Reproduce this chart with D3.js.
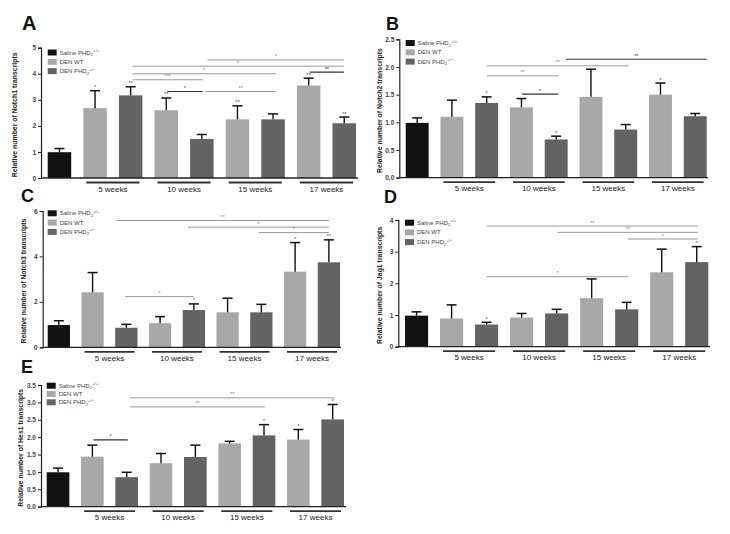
<!DOCTYPE html>
<html><head><meta charset="utf-8">
<script src="https://cdn.jsdelivr.net/npm/d3@7"></script>
<style>body{margin:0;background:#fff}svg{display:block}</style>
</head><body><svg id="c" width="730" height="534"></svg>
<script>
// ---- data ----
const barCategories = ['Saline PHD2+/+','DEN WT 5w','DEN PHD2+/- 5w','DEN WT 10w','DEN PHD2+/- 10w','DEN WT 15w','DEN PHD2+/- 15w','DEN WT 17w','DEN PHD2+/- 17w'];
const barSeries = [0,1,2,1,2,1,2,1,2];
const weeks = ['5 weeks','10 weeks','15 weeks','17 weeks'];
const seriesColors = ['#111111','#a8a8a8','#636363'];

const notch1Mean = [0.99,2.68,3.17,2.60,1.50,2.25,2.25,3.55,2.10];
const notch1Err  = [0.14,0.67,0.33,0.47,0.17,0.52,0.21,0.28,0.24];
const notch1Stars = ['','*','**','**','','**','','**','**'];
const notch1Brackets = [[4.16,7.99,4.53,'*',0],[2.05,7.99,4.29,'*',0],[2.05,6.08,4.0,'*',0],[2.05,4.02,3.77,'***',0],[3.03,4.02,3.32,'*',1],[4.1,6.08,3.32,'**',0],[7.03,7.99,4.06,'**',1]];
const notch1Ticks = [0,1,2,3,4,5];

const notch2Mean = [0.99,1.10,1.35,1.27,0.69,1.46,0.87,1.50,1.11];
const notch2Err  = [0.09,0.30,0.11,0.16,0.06,0.50,0.09,0.21,0.05];
const notch2Stars = ['','','*','','*','','','*',''];
const notch2Brackets = [[4.28,8.33,2.14,'**',1],[2.01,6.08,2.02,'**',0],[2.01,4.05,1.84,'**',0],[3.02,4.05,1.51,'*',1]];
const notch2Ticks = [0,0.5,1,1.5,2,2.5];

const notch3Mean = [0.98,2.42,0.86,1.06,1.64,1.54,1.54,3.33,3.74];
const notch3Err  = [0.19,0.87,0.15,0.29,0.27,0.62,0.35,1.28,0.99];
const notch3Stars = ['','','','','*','','','*','**'];
const notch3Brackets = [[1.71,8.0,5.58,'**',0],[3.83,8.0,5.29,'*',0],[5.93,8.0,5.05,'*',0],[1.96,4.0,2.23,'*',0]];
const notch3Ticks = [0,2,4,6];

const jag1Mean = [0.98,0.89,0.70,0.92,1.05,1.53,1.18,2.35,2.67];
const jag1Err  = [0.12,0.43,0.07,0.13,0.13,0.61,0.22,0.73,0.49];
const jag1Stars = ['','','*','','','','','','*'];
const jag1Brackets = [[2.01,8.03,3.81,'**',0],[4.03,8.03,3.61,'**',0],[6.04,8.03,3.4,'*',0],[2.01,6.04,2.21,'*',0]];
const jag1Ticks = [0,1,2,3,4];

const hes1Mean = [0.99,1.44,0.85,1.25,1.43,1.82,2.05,1.93,2.51];
const hes1Err  = [0.12,0.33,0.14,0.28,0.34,0.06,0.31,0.29,0.43];
const hes1Stars = ['','','','','','','*','*','*'];
const hes1Brackets = [[2.1,8.05,3.13,'**',0],[2.1,6.02,2.87,'**',0],[1.03,2.03,1.92,'*',1]];
const hes1Ticks = [0,0.5,1,1.5,2,2.5,3,3.5];

const legendLabels = [['Saline PHD','2','+/+'],['DEN WT','',''],['DEN PHD','2','+/\u2212']];

// ---- layout ----
const panels = [
 {letter:'A',gene:'Notch1',mean:notch1Mean,err:notch1Err,stars:notch1Stars,br:notch1Brackets,ticks:notch1Ticks,fmt:d3.format('d'),
  x0:41,xEnd:358,y0:178,yTop:47.7,barL:47.7,barR:356,lx:22,ly:30,ls:20,tx:15.5,legX:47.7,legY:52.5,legD:9.3},
 {letter:'B',gene:'Notch2',mean:notch2Mean,err:notch2Err,stars:notch2Stars,br:notch2Brackets,ticks:notch2Ticks,fmt:d3.format('.1f'),
  x0:399.3,xEnd:708,y0:177.7,yTop:39.3,barL:405.7,barR:706.7,lx:386,ly:30,ls:18,tx:380,legX:405.7,legY:43,legD:9.3},
 {letter:'C',gene:'Notch3',mean:notch3Mean,err:notch3Err,stars:notch3Stars,br:notch3Brackets,ticks:notch3Ticks,fmt:d3.format('d'),
  x0:42.7,xEnd:341,y0:347.3,yTop:211,barL:47.7,barR:340,lx:21,ly:202,ls:18,tx:24,legX:47.7,legY:213.3,legD:9.3},
 {letter:'D',gene:'Jag1',mean:jag1Mean,err:jag1Err,stars:jag1Stars,br:jag1Brackets,ticks:jag1Ticks,fmt:d3.format('d'),
  x0:398.3,xEnd:710,y0:346.7,yTop:220,barL:405,barR:708.3,lx:384,ly:203,ls:18,tx:380.5,legX:405,legY:222.7,legD:9.7},
 {letter:'E',gene:'Hes1',mean:hes1Mean,err:hes1Err,stars:hes1Stars,br:hes1Brackets,ticks:hes1Ticks,fmt:d3.format('.1f'),
  x0:41,xEnd:346,y0:506.7,yTop:385,barL:46.7,barR:344,lx:21,ly:373,ls:18,tx:21.5,legX:46.7,legY:385.7,legD:8.3}
];

const svg = d3.select('#c');
svg.append('rect').attr('width',730).attr('height',534).attr('fill','#fff');
const FONT = '"Liberation Sans", Arial, sans-serif';

panels.forEach(p => {
  const g = svg.append('g');
  const maxT = p.ticks[p.ticks.length-1];
  const y = d3.scaleLinear().domain([0,maxT]).range([p.y0,p.yTop]);
  const x = d3.scaleBand().domain(d3.range(barCategories.length)).range([p.barL,p.barR]).paddingInner(0.34).paddingOuter(0);
  const bw = x.bandwidth(), step = x.step();
  const cx = i => x(0) + bw/2 + i*step;

  g.append('text').attr('x',p.lx).attr('y',p.ly).attr('font-family',FONT).attr('font-weight','bold')
    .attr('font-size',p.ls).attr('fill','#111').text(p.letter);

  g.selectAll('rect.bar').data(p.mean).join('rect').attr('class','bar')
    .attr('x',(d,i)=>x(i)).attr('width',bw)
    .attr('y',d=>y(d)).attr('height',d=>p.y0-y(d))
    .attr('fill',(d,i)=>seriesColors[barSeries[i]]);

  p.mean.forEach((m,i)=>{
    const top = y(m+p.err[i]);
    g.append('line').attr('x1',cx(i)).attr('x2',cx(i)).attr('y1',y(m)).attr('y2',top).attr('stroke','#111').attr('stroke-width',1.4);
    g.append('line').attr('x1',cx(i)-5).attr('x2',cx(i)+5).attr('y1',top).attr('y2',top).attr('stroke','#111').attr('stroke-width',1.5);
    if (p.stars[i]) g.append('text').attr('x',cx(i)).attr('y',top-1.5).attr('text-anchor','middle')
      .attr('font-family',FONT).attr('font-size',6).attr('fill','#555').text(p.stars[i]);
  });

  p.br.forEach(b=>{
    const yy = y(b[2]);
    g.append('line').attr('x1',cx(b[0])).attr('x2',cx(b[1])).attr('y1',yy).attr('y2',yy)
      .attr('stroke',b[4]?'#333':'#9a9a9a').attr('stroke-width',b[4]?1.2:1);
    g.append('text').attr('x',(cx(b[0])+cx(b[1]))/2).attr('y',yy-1.5).attr('text-anchor','middle')
      .attr('font-family',FONT).attr('font-size',5.5).attr('fill',b[4]?'#333':'#888').text(b[3]);
  });

  const ax = g.append('g').attr('transform',`translate(${p.x0},0)`)
    .call(d3.axisLeft(y).tickValues(p.ticks).tickFormat(p.fmt).tickSize(3).tickPadding(2));
  ax.select('.domain').attr('stroke','#222').attr('stroke-width',1.2);
  ax.selectAll('.tick line').attr('stroke','#222');
  ax.selectAll('.tick text').attr('font-family',FONT).attr('font-size',6.5).attr('font-weight','bold').attr('fill','#444');
  g.append('line').attr('x1',p.x0).attr('x2',p.xEnd).attr('y1',p.y0).attr('y2',p.y0).attr('stroke','#222').attr('stroke-width',1.3);

  g.append('text').attr('transform',`translate(${p.tx},${(p.y0+p.yTop)/2+2}) rotate(-90)`)
    .attr('text-anchor','middle').attr('dominant-baseline','middle')
    .attr('font-family',FONT).attr('font-weight','bold').attr('font-size',6.9).attr('fill','#222')
    .text(`Relative number of ${p.gene} transcripts`);

  weeks.forEach((w,k)=>{
    const a = 1+2*k, b2 = 2+2*k;
    const xa = x(a)+3, xb = x(b2)+bw-3;
    g.append('line').attr('x1',xa).attr('x2',xb).attr('y1',p.y0+4.5).attr('y2',p.y0+4.5).attr('stroke','#333').attr('stroke-width',1.8);
    g.append('text').attr('x',(xa+xb)/2).attr('y',p.y0+13.5).attr('text-anchor','middle')
      .attr('font-family',FONT).attr('font-size',8).attr('fill','#222').text(w);
  });

  legendLabels.forEach((l,k)=>{
    const ly = p.legY + k*p.legD;
    g.append('rect').attr('x',p.legX).attr('y',ly-3).attr('width',9).attr('height',6).attr('fill',seriesColors[k]);
    const t = g.append('text').attr('x',p.legX+12).attr('y',ly+2).attr('font-family',FONT).attr('font-size',6).attr('fill','#444');
    t.append('tspan').text(l[0]);
    if (l[1]) t.append('tspan').attr('font-size',4.2).attr('dy',1.5).text(l[1]);
    if (l[2]) t.append('tspan').attr('font-size',4.2).attr('dy',-4).text(l[2]);
  });
});
</script></body></html>
